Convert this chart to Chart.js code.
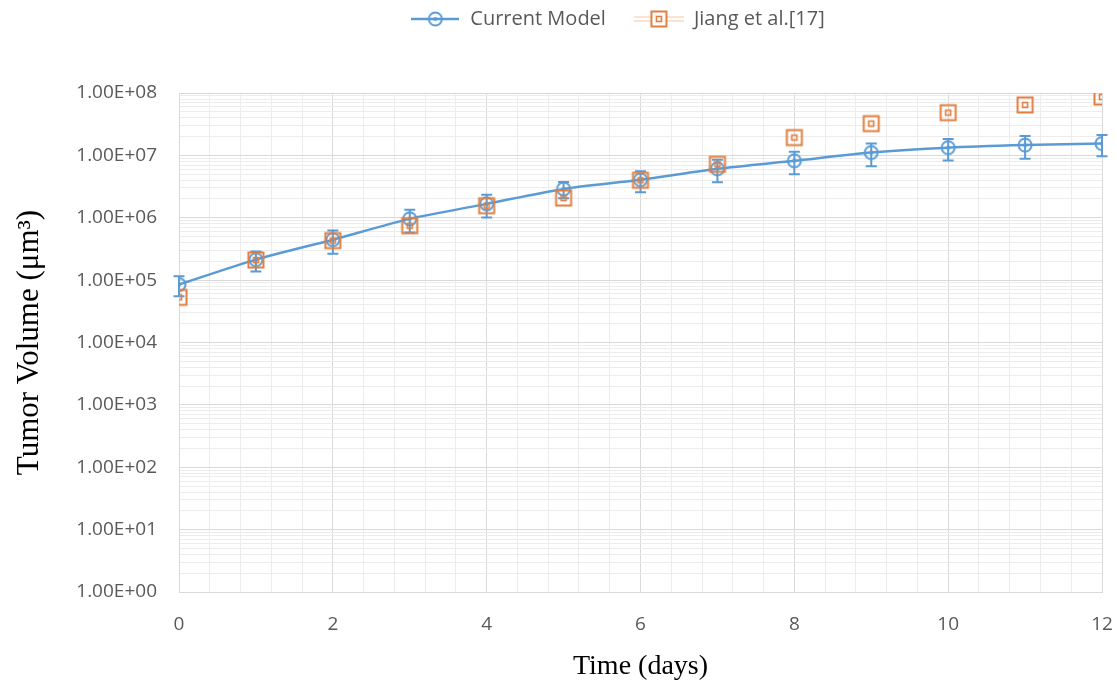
<!DOCTYPE html>
<html>
<head>
<meta charset="utf-8">
<script src="https://cdn.jsdelivr.net/npm/chart.js@4/dist/chart.umd.min.js"></script>
<style>
  html, body { margin: 0; padding: 0; background: #ffffff; }
  #wrap { width: 1117px; height: 683px; position: relative; }
</style>
</head>
<body>
<div id="wrap"><canvas id="c" width="1117" height="683"></canvas></div>
<script>
// ---------------- data ----------------
const days = [0, 1, 2, 3, 4, 5, 6, 7, 8, 9, 10, 11, 12];
const currentModel = [8.5e4, 2.13e5, 4.45e5, 9.6e5, 1.67e6, 2.9e6, 4.06e6, 6.1e6, 8.2e6, 1.11e7, 1.33e7, 1.46e7, 1.55e7];
const currentModelErr = [3.0e4, 7.5e4, 1.8e5, 3.8e5, 6.6e5, 8.5e5, 1.5e6, 2.4e6, 3.2e6, 4.4e6, 5.0e6, 5.8e6, 5.8e6];
const jiang = [5.3e4, 2.1e5, 4.3e5, 7.45e5, 1.56e6, 2.07e6, 4.0e6, 7.2e6, 1.93e7, 3.23e7, 4.84e7, 6.43e7, 8.63e7];
const seriesNames = ['Current Model', 'Jiang et al.[17]'];
const yExponents = [0, 1, 2, 3, 4, 5, 6, 7, 8];
const xLabelDays = [0, 2, 4, 6, 8, 10, 12];
const xTitle = 'Time (days)';
const yTitle = 'Tumor Volume (\u03BCm\u00B3)';

// ---------------- styles ----------------
const BLUE = '#5B9BD5';
const ORANGE = '#E27E3E';
const TICK_COLOR = '#595959';
const MAJOR_GRID = '#d9d9d9';
const MINOR_GRID = '#ececec';

function makeCanvas(w, h, draw) {
  const c = document.createElement('canvas');
  c.width = w; c.height = h;
  draw(c.getContext('2d'), w, h);
  return c;
}
function drawCircleMarker(ctx, cx, cy) {
  ctx.strokeStyle = BLUE; ctx.lineWidth = 2;
  ctx.beginPath(); ctx.arc(cx, cy, 6.5, 0, Math.PI * 2); ctx.stroke();
  ctx.fillStyle = BLUE;
  ctx.beginPath(); ctx.arc(cx, cy, 2, 0, Math.PI * 2); ctx.fill();
}
function drawSquareMarker(ctx, cx, cy) {
  ctx.strokeStyle = ORANGE; ctx.lineWidth = 2;
  ctx.strokeRect(cx - 7.5, cy - 7.5, 15, 15);
  ctx.lineWidth = 1.6;
  ctx.strokeRect(cx - 2.5, cy - 2.5, 5, 5);
}
const bluePoint = makeCanvas(20, 20, (ctx, w, h) => drawCircleMarker(ctx, w / 2, h / 2));
const orangePoint = makeCanvas(20, 20, (ctx, w, h) => drawSquareMarker(ctx, w / 2, h / 2));
const blueLegend = makeCanvas(48, 20, (ctx, w, h) => {
  ctx.strokeStyle = BLUE; ctx.lineWidth = 2.5;
  ctx.beginPath(); ctx.moveTo(0, h / 2); ctx.lineTo(w, h / 2); ctx.stroke();
  drawCircleMarker(ctx, w / 2, h / 2);
});
const orangeLegend = makeCanvas(50, 20, (ctx, w, h) => {
  ctx.strokeStyle = 'rgba(237,125,49,0.45)'; ctx.lineWidth = 1.2;
  ctx.beginPath(); ctx.moveTo(0, h / 2 - 2); ctx.lineTo(w, h / 2 - 2); ctx.stroke();
  ctx.beginPath(); ctx.moveTo(0, h / 2 + 2); ctx.lineTo(w, h / 2 + 2); ctx.stroke();
  ctx.fillStyle = '#fff'; ctx.fillRect(w / 2 - 7.5, h / 2 - 7.5, 15, 15);
  drawSquareMarker(ctx, w / 2, h / 2);
});

const errorBarPlugin = {
  id: 'errorBars',
  afterDatasetDraw(chart, args) {
    if (args.index !== 0) return;
    const xs = chart.scales.x, ys = chart.scales.y;
    const ctx = chart.ctx;
    ctx.save();
    ctx.strokeStyle = BLUE; ctx.lineWidth = 2;
    days.forEach((d, i) => {
      const x = xs.getPixelForValue(d);
      const yT = ys.getPixelForValue(currentModel[i] + currentModelErr[i]);
      const yB = ys.getPixelForValue(currentModel[i] - currentModelErr[i]);
      ctx.beginPath();
      ctx.moveTo(x, yT); ctx.lineTo(x, yB);
      ctx.moveTo(x - 5.5, yT); ctx.lineTo(x + 5.5, yT);
      ctx.moveTo(x - 5.5, yB); ctx.lineTo(x + 5.5, yB);
      ctx.stroke();
    });
    ctx.restore();
  }
};

const legendShift = {
  id: 'legendShift',
  afterLayout(chart) {
    const lg = chart.legend;
    if (!lg) return;
    const h = lg.bottom - lg.top;
    lg.left = 118; lg.right = 1117;
    lg.top = -19; lg.bottom = lg.top + h;
  }
};

const isPow10 = v => Math.abs(Math.log10(v) - Math.round(Math.log10(v))) < 1e-9;

new Chart(document.getElementById('c'), {
  type: 'line',
  data: {
    datasets: [
      {
        label: seriesNames[0],
        data: days.map((d, i) => ({ x: d, y: currentModel[i] })),
        borderColor: BLUE, borderWidth: 2.5, tension: 0.25,
        pointStyle: bluePoint, pointRadius: 7, fill: false, order: 1
      },
      {
        label: seriesNames[1],
        data: days.map((d, i) => ({ x: d, y: jiang[i] })),
        showLine: false, borderColor: ORANGE,
        pointStyle: orangePoint, pointRadius: 8, fill: false, order: 0
      }
    ]
  },
  options: {
    responsive: false,
    animation: false,
    events: [],
    layout: { padding: { top: 35, right: 15, left: 0, bottom: 0 } },
    plugins: {
      tooltip: { enabled: false },
      legend: {
        position: 'top',
        labels: {
          usePointStyle: true,
          pointStyleWidth: 50,
          padding: 28,
          color: TICK_COLOR,
          font: { family: 'Open Sans', size: 20 },
          generateLabels() {
            return [
              { text: seriesNames[0], pointStyle: blueLegend, fontColor: TICK_COLOR, fillStyle: 'rgba(0,0,0,0)', strokeStyle: 'rgba(0,0,0,0)', lineWidth: 0, datasetIndex: 0, hidden: false },
              { text: seriesNames[1], pointStyle: orangeLegend, fontColor: TICK_COLOR, fillStyle: 'rgba(0,0,0,0)', strokeStyle: 'rgba(0,0,0,0)', lineWidth: 0, datasetIndex: 1, hidden: false }
            ];
          }
        }
      }
    },
    scales: {
      x: {
        type: 'linear', min: 0, max: 12,
        afterBuildTicks(scale) {
          const t = [];
          for (let i = 0; i <= 30; i++) t.push({ value: Math.round(i * 0.4 * 10) / 10 });
          scale.ticks = t;
        },
        afterFit(scale) { scale.height = 91; scale.paddingRight = 0; scale.paddingLeft = 0; },
        ticks: {
          autoSkip: false, maxRotation: 0, padding: 21,
          color: TICK_COLOR, font: { family: 'Open Sans', size: 19 },
          callback: v => (xLabelDays.includes(v) ? String(v) : '')
        },
        grid: {
          drawTicks: false,
          color: ctx => (ctx.tick && xLabelDays.includes(ctx.tick.value) ? MAJOR_GRID : MINOR_GRID)
        },
        border: { color: MAJOR_GRID },
        title: {
          display: true, text: xTitle, color: '#000',
          font: { family: 'Liberation Serif', size: 28 },
          padding: { top: 0, bottom: 0 }
        }
      },
      y: {
        type: 'logarithmic', min: 1, max: 1e8,
        afterBuildTicks(scale) {
          const t = [];
          yExponents.forEach(e => {
            if (e === yExponents[yExponents.length - 1]) { t.push({ value: Math.pow(10, e) }); return; }
            for (let k = 1; k <= 9; k++) t.push({ value: k * Math.pow(10, e) });
          });
          scale.ticks = t;
        },
        afterFit(scale) { scale.width = 179; },
        ticks: {
          autoSkip: false, padding: 22,
          color: TICK_COLOR, font: { family: 'Open Sans', size: 19 },
          callback: v => (isPow10(v) ? '1.00E+' + String(Math.round(Math.log10(v))).padStart(2, '0') : '')
        },
        grid: {
          drawTicks: false,
          color: ctx => (ctx.tick && isPow10(ctx.tick.value) ? MAJOR_GRID : MINOR_GRID)
        },
        border: { color: MAJOR_GRID },
        title: {
          display: true, text: yTitle, color: '#000',
          font: { family: 'Liberation Serif', size: 31 },
          padding: { top: 11, bottom: 0 }
        }
      }
    }
  },
  plugins: [errorBarPlugin, legendShift]
});
</script>
</body>
</html>
